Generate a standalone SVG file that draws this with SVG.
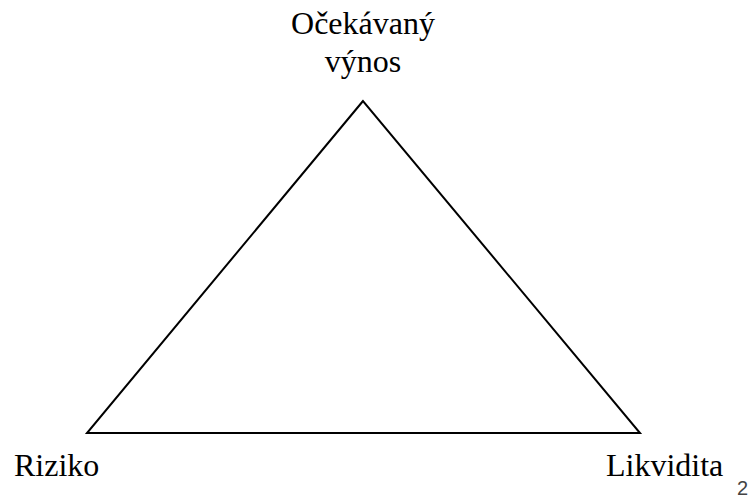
<svg xmlns="http://www.w3.org/2000/svg" width="750" height="498" viewBox="0 0 750 498">
<style>
text.lbl{font-family:'Liberation Serif', 'Times New Roman', serif;font-size:32px;fill:#000}
.edge{fill:none;stroke:#000;stroke-width:2}
</style>
<rect width="750" height="498" fill="#fff"/>
<g id="connectors">
<polygon class="edge" points="363,101 87,433 640,433"/>
</g>
<g id="node-vynos">
<text class="lbl" font-family="Liberation Serif, serif" x="363" y="34" text-anchor="middle">Očekávaný</text>
<text class="lbl" font-family="Liberation Serif, serif" x="363" y="72" text-anchor="middle">výnos</text>
</g>
<g id="node-riziko">
<text class="lbl" font-family="Liberation Serif, serif" x="14" y="476">Riziko</text>
</g>
<g id="node-likvidita">
<text class="lbl" font-family="Liberation Serif, serif" x="606" y="476">Likvidita</text>
</g>
<text x="737" y="495" font-family="Liberation Sans, Arial, sans-serif" font-size="20" fill="#444">2</text>
</svg>
